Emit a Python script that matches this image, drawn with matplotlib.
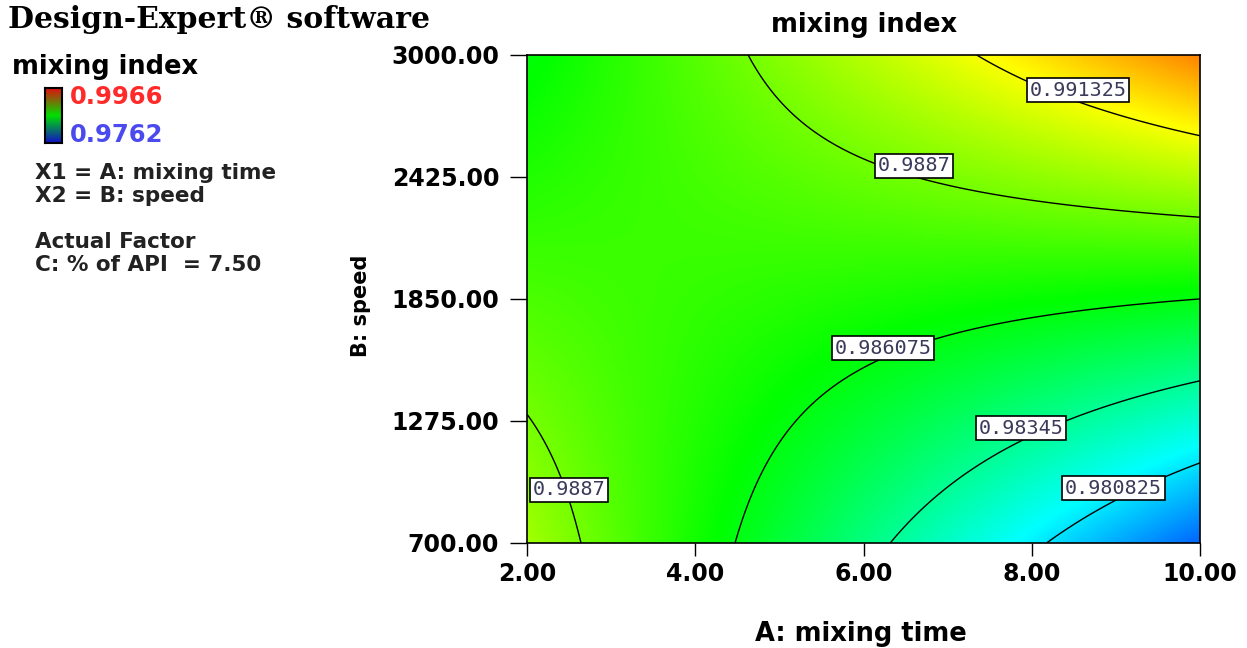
import numpy as np
import matplotlib.pyplot as plt
from matplotlib.colors import LinearSegmentedColormap, Normalize

# quadratic model in coded units x1=(A-6)/4, x2=(B-1850)/1150, C held at 7.50
# terms: intercept, x1, x2, x1*x2, x1^2, x2^2
coef = [0.9869340, -0.0009064, 0.0030595, 0.0047721, 0.0000451, 0.0000264]
levels = [0.980825, 0.98345, 0.986075, 0.9887, 0.991325]
label_pos = [(8.97, 959), (7.87, 1242), (6.23, 1619), (6.60, 2477), (2.50, 950), (8.55, 2835)]
x_ticks = [2.00, 4.00, 6.00, 8.00, 10.00]
y_ticks = [700.00, 1275.00, 1850.00, 2425.00, 3000.00]
c_min, c_max = 0.9762, 0.9966

W, H = 1247, 648
fig = plt.figure(figsize=(W / 100, H / 100), dpi=100)

def fx(px):
    return px / W

def fy(py):
    return 1 - py / H

cmap = LinearSegmentedColormap.from_list(
    'de', ['#0000ff', '#00ffff', '#00ff00', '#ffff00', '#ff0000'])
norm = Normalize(c_min, c_max)

ax = fig.add_axes([fx(527), fy(543), fx(1200) - fx(527), fy(55) - fy(543)])
A = np.linspace(2, 10, 300)
B = np.linspace(700, 3000, 300)
AA, BB = np.meshgrid(A, B)
X1, X2 = (AA - 6) / 4, (BB - 1850) / 1150
Z = (coef[0] + coef[1] * X1 + coef[2] * X2 + coef[3] * X1 * X2
     + coef[4] * X1 ** 2 + coef[5] * X2 ** 2)
ax.imshow(Z, extent=[2, 10, 700, 3000], origin='lower', aspect='auto',
          cmap=cmap, norm=norm, interpolation='bilinear')
cs = ax.contour(AA, BB, Z, levels=levels, colors='black', linewidths=1)
labels = ax.clabel(cs, levels, inline=False, manual=label_pos,
                   fmt=lambda v: ('%.6f' % v).rstrip('0'),
                   fontsize=14.5, colors='#3a3a5a')
for t in labels:
    # put each box where it sits in the original, not snapped onto the line
    x, y = t.get_position()
    near = min(label_pos, key=lambda p: ((p[0] - x) / 8) ** 2 + ((p[1] - y) / 2300) ** 2)
    t.set_position(near)
    t.set_rotation(0)
    t.set_family('DejaVu Sans Mono')
    t.set_bbox(dict(facecolor='white', edgecolor='black', linewidth=1.2, pad=2))

ax.set_xlim(2, 10)
ax.set_ylim(700, 3000)
ax.set_xticks(x_ticks)
ax.set_yticks(y_ticks)
ax.xaxis.set_major_formatter(lambda v, p: '%.2f' % v)
ax.yaxis.set_major_formatter(lambda v, p: '%.2f' % v)
for lab in ax.get_xticklabels() + ax.get_yticklabels():
    lab.set_fontweight('bold')
ax.tick_params(axis='x', length=9, width=1, pad=5, labelsize=17)
ax.tick_params(axis='y', length=12, width=1, pad=8, labelsize=17)
for s in ax.spines.values():
    s.set_linewidth(1.2)

bold = dict(fontweight='bold', family='DejaVu Sans')
fig.text(fx(864), fy(25), 'mixing index', ha='center', va='center', fontsize=18.5, **bold)
fig.text(fx(861), fy(634), 'A: mixing time', ha='center', va='center', fontsize=18.5, **bold)
fig.text(fx(361), fy(306), 'B: speed', ha='center', va='center', rotation=90,
         fontsize=15, **bold)

# side legend
fig.text(fx(8), fy(20), 'Design-Expert\u00ae software', ha='left', va='center',
         fontsize=21.5, fontweight='bold', family='DejaVu Serif')
fig.text(fx(12), fy(67), 'mixing index', ha='left', va='center', fontsize=18.5, **bold)
cax = fig.add_axes([fx(45), fy(143), fx(62) - fx(45), fy(88) - fy(143)])
legend_cmap = LinearSegmentedColormap.from_list('leg', ['#1010c8', '#00e000', '#e01010'])
cax.imshow(np.linspace(0, 1, 100)[:, None], origin='lower', aspect='auto', cmap=legend_cmap)
cax.set_xticks([])
cax.set_yticks([])
for s in cax.spines.values():
    s.set_linewidth(1.5)
fig.text(fx(70), fy(97), '%.4f' % c_max, ha='left', va='center', fontsize=17.5,
         color='#ff2a2a', **bold)
fig.text(fx(70), fy(135), '%.4f' % c_min, ha='left', va='center', fontsize=17.5,
         color='#4a4aee', **bold)
info = ['X1 = A: mixing time', 'X2 = B: speed', '', 'Actual Factor', 'C: % of API  = 7.50']
for i, line in enumerate(info):
    fig.text(fx(35), fy(173 + 23 * i), line, ha='left', va='center', fontsize=15.5,
             color='#222222', **bold)

fig.savefig('out.png')
